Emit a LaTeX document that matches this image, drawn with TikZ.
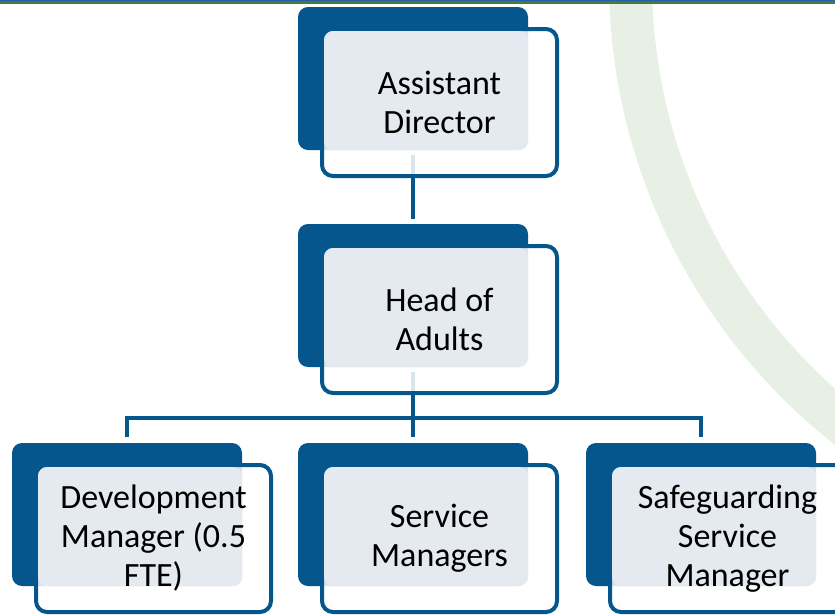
\documentclass[tikz,border=0pt]{standalone}
\usepackage{fontspec}
\setmainfont{Carlito}
\usetikzlibrary{backgrounds}

\definecolor{orgblue}{HTML}{04568C}
\definecolor{paneblue}{HTML}{E4EAF0}
\definecolor{arcgreen}{HTML}{E8F0E6}
\definecolor{topblue}{HTML}{2A5CA8}
\definecolor{topgreen}{HTML}{3F7F3A}

\tikzset{
  darkbox/.style={fill=orgblue, rounded corners=10pt, minimum width=230pt,
    minimum height=143pt, inner sep=0pt, outer sep=0pt, anchor=north west},
  whitebox/.style={draw=orgblue, line width=4pt, fill=white, fill opacity=0.85,
    rounded corners=11pt, minimum width=235pt, minimum height=147pt,
    inner sep=0pt, outer sep=0pt, anchor=north west},
  lightpane/.style={fill=paneblue, rounded corners=9pt},
  unitlabel/.style={font=\fontsize{34pt}{39pt}\selectfont, align=center,
    text=black, inner sep=0pt},
  link/.style={draw=orgblue, line width=4pt},
}

% one post: dark back panel, outlined front panel, pale overlap, label
\newcommand\orgunit[4]{%
  \node[darkbox] (#1d) at (#2,#3) {};
  \node[whitebox] (#1w) at (#2+24,#3+22) {};
  \fill[lightpane] ([xshift=2pt,yshift=-2pt]#1w.north west) rectangle (#1d.south east);
  \node[unitlabel] (#1t) at (#1w.center) {#4};
}

\begin{document}
\begin{tikzpicture}[x=1pt,y=-1pt]
  \useasboundingbox (0,0) rectangle (835,614);

  \orgunit{ad}{298}{7}{Assistant\\Director}
  \orgunit{ha}{298}{224}{Head of\\Adults}
  \orgunit{dm}{12}{443}{Development\\Manager (0.5\\FTE)}
  \orgunit{sm}{298}{443}{Service\\Managers}
  \orgunit{sg}{586}{443}{Safeguarding\\Service\\Manager}

  \coordinate (bar) at (0,418);

  \begin{pgfonlayer}{background}
    \fill[white] (0,0) rectangle (835,614);

    % decorative ring sweeping down the right-hand side
    \begin{scope}
      \clip (0,0) rectangle (835,614);
      \draw[arcgreen, line width=43pt] (1200,-20) circle[radius=569.5pt];
    \end{scope}

    % header rule
    \fill[topblue] (0,0) rectangle (835,1);
    \fill[topgreen] (0,1) rectangle (835,4);

    % reporting lines
    \draw[link] ([yshift=-5pt]add.south) -- ([yshift=5pt]had.north);
    \draw[link] ([yshift=-5pt]had.south) -- ([yshift=6pt]smd.north);
    \draw[link] ([yshift=6pt]dmd.north) |- (bar -| sgd.north) -- ([yshift=6pt]sgd.north);
  \end{pgfonlayer}
\end{tikzpicture}
\end{document}
